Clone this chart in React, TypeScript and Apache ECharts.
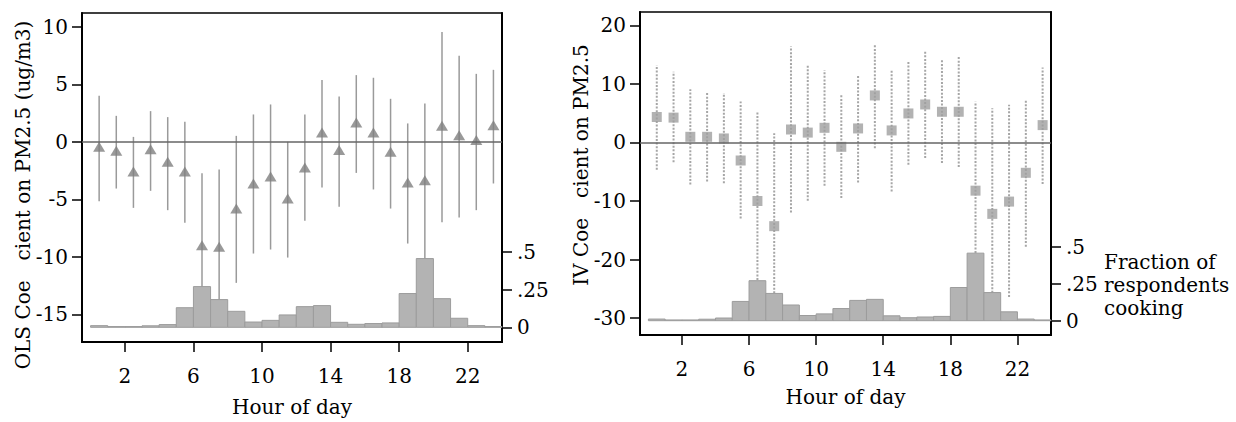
import React, { useEffect, useRef } from "react";
import * as echarts from "echarts";

const hourStart = [0, 1, 2, 3, 4, 5, 6, 7, 8, 9, 10, 11, 12, 13, 14, 15, 16, 17, 18, 19, 20, 21, 22, 23];
const hourMid = [0.5, 1.5, 2.5, 3.5, 4.5, 5.5, 6.5, 7.5, 8.5, 9.5, 10.5, 11.5, 12.5, 13.5, 14.5, 15.5, 16.5, 17.5, 18.5, 19.5, 20.5, 21.5, 22.5, 23.5];
const fracCooking = [0.011, 0.005, 0.005, 0.01, 0.018, 0.13, 0.27, 0.184, 0.106, 0.035, 0.046, 0.082, 0.137, 0.144, 0.033, 0.02, 0.025, 0.029, 0.224, 0.456, 0.19, 0.06, 0.011, 0.005];

const olsCoef = [-0.43, -0.78, -2.58, -0.64, -1.74, -2.58, -8.98, -9.13, -5.8, -3.62, -3.01, -4.93, -2.23, 0.81, -0.72, 1.68, 0.81, -0.87, -3.53, -3.33, 1.39, 0.58, 0.15, 1.45];
const olsLow = [-5.16, -4.06, -5.74, -4.26, -5.94, -7.04, -15.5, -15.5, -12.26, -9.71, -9.36, -10.06, -6.87, -3.97, -5.65, -2.7, -4.14, -5.8, -8.84, -11.5, -6.98, -6.57, -5.94, -3.62];
const olsHigh = [4.0, 2.26, 0.43, 2.67, 2.15, 1.74, -2.72, -2.4, 0.52, 2.38, 3.25, 0.0, 2.38, 5.37, 3.94, 5.8, 5.57, 3.74, 1.6, 3.34, 9.54, 7.48, 5.91, 6.26];

const ivCoef = [4.36, 4.25, 0.97, 0.97, 0.69, -3.08, -10.0, -14.3, 2.22, 1.69, 2.51, -0.74, 2.4, 8.04, 2.06, 4.96, 6.5, 5.25, 5.25, -8.23, -12.2, -10.1, -5.18, 2.97];
const ivLow = [-4.67, -3.36, -7.2, -6.66, -6.95, -13.0, -23.5, -27, -11.97, -9.97, -7.4, -9.5, -6.84, -0.97, -8.37, -3.81, -2.67, -3.52, -4.2, -19.5, -25.7, -26.4, -17.8, -7.1];
const ivHigh = [13.2, 12.1, 9.1, 8.55, 8.44, 7.0, 5.42, 1.6, 16.4, 13.2, 12.4, 8.27, 11.6, 16.8, 12.4, 13.85, 15.56, 14.1, 14.7, 7.0, 5.87, 6.44, 7.42, 12.8];

const xTicks = [2, 6, 10, 14, 18, 22];
const olsTicks = [-15, -10, -5, 0, 5, 10];
const ivTicks = [-30, -20, -10, 0, 10, 20];
const fracTicks = [0, 0.25, 0.5];
const fracLabels: Record<string, string> = { "0": "0", "0.25": ".25", "0.5": ".5" };

const xTitle = "Hour of day";
const olsTitle = "OLS Coe\u2003cient on PM2.5 (ug/m3)";
const ivTitle = "IV Coe\u2003cient on PM2.5";
const fracTitle = "Fraction of\nrespondents\ncooking";

const F = "DejaVu Serif";

export default function App() {
  const ref = useRef<HTMLDivElement>(null);
  useEffect(() => {
    if (!ref.current) return;
    const chart = echarts.init(ref.current, null, { renderer: "svg" });
    const txt = { fontSize: 20, fontFamily: F, color: "#000" };

    const mkX = (gi: number, gap: number) => ({
      gridIndex: gi,
      type: "value",
      min: -0.5,
      max: 24,
      axisLine: { show: true, onZero: false, lineStyle: { color: "#000", width: 2 } },
      axisTick: { show: true, customValues: xTicks, length: 10, lineStyle: { color: "#000", width: 1.5 } },
      axisLabel: { customValues: xTicks, margin: 24, ...txt },
      splitLine: { show: false },
      name: xTitle,
      nameLocation: "middle",
      nameGap: gap,
      nameTextStyle: txt,
    });
    const mkY = (gi: number, min: number, max: number, ticks: number[]) => ({
      gridIndex: gi,
      type: "value",
      position: "left",
      min,
      max,
      axisLine: { show: true, onZero: false, lineStyle: { color: "#000", width: 2 } },
      axisTick: { show: true, customValues: ticks, length: 10, lineStyle: { color: "#000", width: 1.5 } },
      axisLabel: { customValues: ticks, margin: 14, ...txt },
      splitLine: { show: false },
    });
    const mkF = (gi: number, min: number, max: number) => ({
      gridIndex: gi,
      type: "value",
      position: "right",
      min,
      max,
      axisLine: { show: true, onZero: false, lineStyle: { color: "#000", width: 2 } },
      axisTick: { show: true, customValues: fracTicks, length: 10, lineStyle: { color: "#000", width: 1.5 } },
      axisLabel: {
        customValues: fracTicks,
        margin: 15,
        ...txt,
        formatter: (v: number) => fracLabels[String(v)] ?? String(v),
      },
      splitLine: { show: false },
    });

    const ciSeries = (xi: number, yi: number, low: number[], high: number[], dashed: boolean) => ({
      type: "custom",
      xAxisIndex: xi,
      yAxisIndex: yi,
      z: 1,
      silent: true,
      encode: { x: 0, y: [1, 2] },
      data: hourMid.map((h, i) => [h, low[i], high[i]]),
      renderItem: (params: any, api: any) => {
        const x = api.value(0);
        const p1 = api.coord([x, api.value(1)]);
        const p2 = api.coord([x, api.value(2)]);
        return {
          type: "line",
          shape: { x1: p1[0], y1: p1[1], x2: p2[0], y2: p2[1] },
          style: dashed
            ? { stroke: "#a6a6a6", lineWidth: 2, lineDash: [2, 1.6] }
            : { stroke: "#9a9a9a", lineWidth: 1.5 },
        };
      },
      markLine: {
        silent: true,
        symbol: "none",
        label: { show: false },
        lineStyle: { color: "#666", width: 1.5, type: "solid" },
        data: [{ yAxis: 0 }],
      },
    });
    const barSeries = (xi: number, yi: number) => ({
      type: "custom",
      xAxisIndex: xi,
      yAxisIndex: yi,
      z: 2,
      silent: true,
      encode: { x: 0, y: 1 },
      data: hourStart.map((h, i) => [h, fracCooking[i]]),
      renderItem: (params: any, api: any) => {
        const h = api.value(0);
        const a = api.coord([h, api.value(1)]);
        const b = api.coord([h + 1, 0]);
        return {
          type: "rect",
          shape: { x: a[0], y: a[1], width: b[0] - a[0], height: b[1] - a[1] },
          style: { fill: "#b3b3b3", stroke: "#9c9c9c", lineWidth: 1 },
        };
      },
    });

    chart.setOption({
      animation: false,
      backgroundColor: "#fff",
      grid: [
        { left: 82, top: 13, width: 420, height: 329, show: true, borderColor: "#000", borderWidth: 1.5, containLabel: false },
        { left: 640, top: 12, width: 411, height: 323, show: true, borderColor: "#000", borderWidth: 1.5, containLabel: false },
      ],
      xAxis: [mkX(0, 55), mkX(1, 52)],
      yAxis: [mkY(0, -17.4, 11.2, olsTicks), mkF(0, -0.0975, 2.085), mkY(1, -32.9, 22.3, ivTicks), mkF(1, -0.0966, 2.084)],
      series: [
        ciSeries(0, 0, olsLow, olsHigh, false),
        barSeries(0, 1),
        {
          type: "scatter",
          xAxisIndex: 0,
          yAxisIndex: 0,
          z: 4,
          symbol: "triangle",
          symbolSize: [12, 10],
          itemStyle: { color: "#808080" },
          data: hourMid.map((h, i) => [h, olsCoef[i]]),
        },
        ciSeries(1, 2, ivLow, ivHigh, true),
        barSeries(1, 3),
        {
          type: "scatter",
          xAxisIndex: 1,
          yAxisIndex: 2,
          z: 4,
          symbol: "rect",
          symbolSize: 10,
          itemStyle: { color: "#9f9f9f" },
          data: hourMid.map((h, i) => [h, ivCoef[i]]),
        },
      ],
      graphic: [
        {
          type: "text",
          x: 23,
          y: 195,
          rotation: Math.PI / 2,
          style: { text: olsTitle, font: `20px "${F}"`, fill: "#000", textAlign: "center", textVerticalAlign: "middle" },
        },
        {
          type: "text",
          x: 581,
          y: 165,
          rotation: Math.PI / 2,
          style: { text: ivTitle, font: `20px "${F}"`, fill: "#000", textAlign: "center", textVerticalAlign: "middle" },
        },
        {
          type: "text",
          x: 1104,
          y: 285,
          style: {
            text: fracTitle,
            font: `20px "${F}"`,
            fill: "#000",
            textAlign: "left",
            textVerticalAlign: "middle",
            lineHeight: 23,
          },
        },
      ],
    });
    return () => chart.dispose();
  }, []);
  return <div ref={ref} style={{ position: "absolute", left: 0, top: 0, width: 1236, height: 422 }} />;
}
